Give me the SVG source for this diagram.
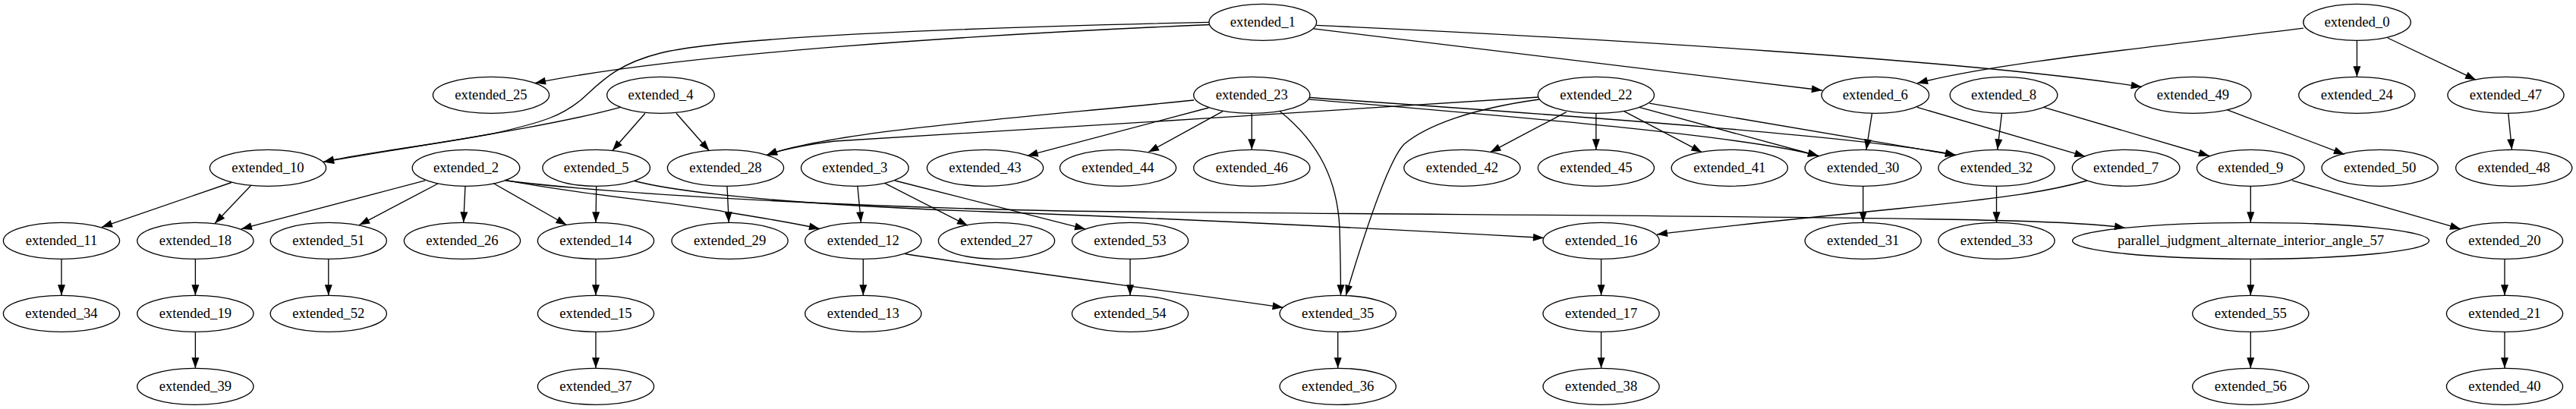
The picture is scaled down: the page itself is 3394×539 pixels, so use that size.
<svg xmlns="http://www.w3.org/2000/svg" width="3394" height="539" viewBox="0 0 3394 539">
<style>
.n ellipse{fill:none;stroke:#000;stroke-width:1.33}
.n text{font-family:"Liberation Serif","Times New Roman",serif;font-size:18.67px;text-anchor:middle;fill:#000}
#edges path{fill:none;stroke:#000;stroke-width:1.33;marker-end:url(#arr)}
</style>
<defs>
<marker id="arr" markerUnits="userSpaceOnUse" viewBox="0 0 14 10" markerWidth="14" markerHeight="10" refX="14" refY="5" orient="auto" overflow="visible"><path d="M0,0 L14,5 L0,10 Z" fill="#000"/></marker>
</defs>
<rect x="0" y="0" width="3394" height="539" fill="#fff"/>
<g id="edges">
<path d="M1594,32.5 C1300,45 900,70 705,109.5"/>
<path d="M1593,29.3 C1250,37 950,50 870,70 C810,85 790,110 765,132 C740,152 720,160 650,176 C560,193 480,201 426,213.5"/>
<path d="M817.4,141.4 C720,168 560,190 426,213.5"/>
<path d="M1730.8,37.9 L2400.9,119"/>
<path d="M1734.4,33.4 C2100,50 2600,80 2821.8,114.5"/>
<path d="M3034.8,37.2 C2800,66 2620,85 2526,109.7"/>
<path d="M3105.4,53.3 L3105.4,101.3"/>
<path d="M3145.9,50 L3262.1,105.2"/>
<path d="M3304.8,149.3 L3309.5,197.3"/>
<path d="M2934.7,144.8 L3088.9,203.4"/>
<path d="M850,149.3 L806.8,198.5"/>
<path d="M891,149.3 L934.5,198.8"/>
<path d="M1573,132 C1350,155 1100,172 1010,204.5"/>
<path d="M2027,128 C1800,145 1250,175 1100,186 C1060,191 1030,197 1010,204.5"/>
<path d="M2028,131 C1940,143 1880,165 1850,190 C1830,210 1800,300 1773.2,389.5"/>
<path d="M1686.2,146.6 C1740,190 1762,240 1765,300 C1766,340 1766.5,370 1766.5,389.3"/>
<path d="M1592.4,142 L1353.6,205.2"/>
<path d="M1611.2,146.6 L1513,200.5"/>
<path d="M1649.3,149.3 L1649.3,197.3"/>
<path d="M1724,130.8 C1950,150 2300,178 2396,205.5"/>
<path d="M1725,128.5 C2000,148 2450,178 2577,204.5"/>
<path d="M2063.8,147.6 L1963.4,200.7"/>
<path d="M2102.9,149.3 L2102.9,197.3"/>
<path d="M2139.7,146.6 L2242.4,200.7"/>
<path d="M2159.8,141.4 L2396,205.5"/>
<path d="M2173.2,136.2 L2577,204.5"/>
<path d="M2466.5,149.3 L2458.9,197.5"/>
<path d="M2525.9,141.4 L2747.3,206.2"/>
<path d="M2637.5,149.3 L2631.7,197.3"/>
<path d="M2692.7,141.4 L2911,205.5"/>
<path d="M305,240.5 L134,299.3"/>
<path d="M331,244 L283,294.5"/>
<path d="M560.3,237.9 L317.9,301.7"/>
<path d="M577,242 L473.2,296.6"/>
<path d="M613,245.3 L610.7,293.3"/>
<path d="M650,241.5 L746.5,296.5"/>
<path d="M665.2,237.2 C750,255 900,268 960,280 C1010,288 1050,295 1080,301.4"/>
<path d="M666,238 C800,255 1100,272 1400,278 C1800,283 2400,284 2650,291 C2720,293 2770,296 2800,300.3"/>
<path d="M836,238.5 C880,250 1000,268 1300,279 C1600,290 1900,306 2034,313.5"/>
<path d="M2750,238 C2700,252 2650,260 2500,275 C2350,290 2250,300 2183,309"/>
<path d="M1129.9,245.3 L1134.4,293.3"/>
<path d="M1165.6,241.4 L1275,297.2"/>
<path d="M1179,238 L1430,301.8"/>
<path d="M958,245.3 L960.3,293.3"/>
<path d="M785.7,245.3 L785,293.3"/>
<path d="M1192.4,334.5 C1300,352 1500,378 1690.6,405.2"/>
<path d="M2965.3,245.3 L2965.3,293.3"/>
<path d="M3020.1,237.9 L3242,301.7"/>
<path d="M2454.7,245.3 L2454.7,293.3"/>
<path d="M2630.5,245.3 L2630.5,293.3"/>
<path d="M81,341.3 L81,389.3"/>
<path d="M257.4,341.3 L257.4,389.3"/>
<path d="M432.8,341.3 L432.8,389.3"/>
<path d="M785,341.3 L785,389.3"/>
<path d="M1137.3,341.3 L1137.3,389.3"/>
<path d="M1489,341.3 L1489,389.3"/>
<path d="M2109.6,341.3 L2109.6,389.3"/>
<path d="M2965.3,341.3 L2965.3,389.3"/>
<path d="M3300,341.3 L3300,389.3"/>
<path d="M257.4,437.3 L257.4,485.3"/>
<path d="M785,437.3 L785,485.3"/>
<path d="M1762.7,437.3 L1762.7,485.3"/>
<path d="M2109.6,437.3 L2109.6,485.3"/>
<path d="M2965.3,437.3 L2965.3,485.3"/>
<path d="M3300,437.3 L3300,485.3"/>
</g>
<g id="extended_1" class="n"><ellipse cx="1663.8" cy="29.3" rx="70.8" ry="24"/><text x="1663.8" y="35.3">extended_1</text></g>
<g id="extended_0" class="n"><ellipse cx="3105.5" cy="29.3" rx="70.8" ry="24"/><text x="3105.5" y="35.3">extended_0</text></g>
<g id="extended_25" class="n"><ellipse cx="647" cy="125.3" rx="76.6" ry="24"/><text x="647" y="131.3">extended_25</text></g>
<g id="extended_4" class="n"><ellipse cx="870.5" cy="125.3" rx="70.8" ry="24"/><text x="870.5" y="131.3">extended_4</text></g>
<g id="extended_23" class="n"><ellipse cx="1649.3" cy="125.3" rx="76.6" ry="24"/><text x="1649.3" y="131.3">extended_23</text></g>
<g id="extended_22" class="n"><ellipse cx="2102.9" cy="125.3" rx="76.6" ry="24"/><text x="2102.9" y="131.3">extended_22</text></g>
<g id="extended_6" class="n"><ellipse cx="2470.8" cy="125.3" rx="70.8" ry="24"/><text x="2470.8" y="131.3">extended_6</text></g>
<g id="extended_8" class="n"><ellipse cx="2640" cy="125.3" rx="70.8" ry="24"/><text x="2640" y="131.3">extended_8</text></g>
<g id="extended_49" class="n"><ellipse cx="2889.4" cy="125.3" rx="76.6" ry="24"/><text x="2889.4" y="131.3">extended_49</text></g>
<g id="extended_24" class="n"><ellipse cx="3105.3" cy="125.3" rx="76.6" ry="24"/><text x="3105.3" y="131.3">extended_24</text></g>
<g id="extended_47" class="n"><ellipse cx="3301.5" cy="125.3" rx="76.6" ry="24"/><text x="3301.5" y="131.3">extended_47</text></g>
<g id="extended_10" class="n"><ellipse cx="353" cy="221.3" rx="76.6" ry="24"/><text x="353" y="227.3">extended_10</text></g>
<g id="extended_2" class="n"><ellipse cx="614" cy="221.3" rx="70.8" ry="24"/><text x="614" y="227.3">extended_2</text></g>
<g id="extended_5" class="n"><ellipse cx="785.7" cy="221.3" rx="70.8" ry="24"/><text x="785.7" y="227.3">extended_5</text></g>
<g id="extended_28" class="n"><ellipse cx="956" cy="221.3" rx="76.6" ry="24"/><text x="956" y="227.3">extended_28</text></g>
<g id="extended_3" class="n"><ellipse cx="1126.3" cy="221.3" rx="70.8" ry="24"/><text x="1126.3" y="227.3">extended_3</text></g>
<g id="extended_43" class="n"><ellipse cx="1298" cy="221.3" rx="76.6" ry="24"/><text x="1298" y="227.3">extended_43</text></g>
<g id="extended_44" class="n"><ellipse cx="1473" cy="221.3" rx="76.6" ry="24"/><text x="1473" y="227.3">extended_44</text></g>
<g id="extended_46" class="n"><ellipse cx="1649.3" cy="221.3" rx="76.6" ry="24"/><text x="1649.3" y="227.3">extended_46</text></g>
<g id="extended_42" class="n"><ellipse cx="1926.4" cy="221.3" rx="76.6" ry="24"/><text x="1926.4" y="227.3">extended_42</text></g>
<g id="extended_45" class="n"><ellipse cx="2102.9" cy="221.3" rx="76.6" ry="24"/><text x="2102.9" y="227.3">extended_45</text></g>
<g id="extended_41" class="n"><ellipse cx="2278.8" cy="221.3" rx="76.6" ry="24"/><text x="2278.8" y="227.3">extended_41</text></g>
<g id="extended_30" class="n"><ellipse cx="2454.7" cy="221.3" rx="76.6" ry="24"/><text x="2454.7" y="227.3">extended_30</text></g>
<g id="extended_32" class="n"><ellipse cx="2630.5" cy="221.3" rx="76.6" ry="24"/><text x="2630.5" y="227.3">extended_32</text></g>
<g id="extended_7" class="n"><ellipse cx="2801.1" cy="221.3" rx="70.8" ry="24"/><text x="2801.1" y="227.3">extended_7</text></g>
<g id="extended_9" class="n"><ellipse cx="2965.3" cy="221.3" rx="70.8" ry="24"/><text x="2965.3" y="227.3">extended_9</text></g>
<g id="extended_50" class="n"><ellipse cx="3135.6" cy="221.3" rx="76.6" ry="24"/><text x="3135.6" y="227.3">extended_50</text></g>
<g id="extended_48" class="n"><ellipse cx="3312.2" cy="221.3" rx="76.6" ry="24"/><text x="3312.2" y="227.3">extended_48</text></g>
<g id="extended_11" class="n"><ellipse cx="81" cy="317.3" rx="76.6" ry="24"/><text x="81" y="323.3">extended_11</text></g>
<g id="extended_18" class="n"><ellipse cx="257.4" cy="317.3" rx="76.6" ry="24"/><text x="257.4" y="323.3">extended_18</text></g>
<g id="extended_51" class="n"><ellipse cx="432.8" cy="317.3" rx="76.6" ry="24"/><text x="432.8" y="323.3">extended_51</text></g>
<g id="extended_26" class="n"><ellipse cx="609" cy="317.3" rx="76.6" ry="24"/><text x="609" y="323.3">extended_26</text></g>
<g id="extended_14" class="n"><ellipse cx="785" cy="317.3" rx="76.6" ry="24"/><text x="785" y="323.3">extended_14</text></g>
<g id="extended_29" class="n"><ellipse cx="961.6" cy="317.3" rx="76.6" ry="24"/><text x="961.6" y="323.3">extended_29</text></g>
<g id="extended_12" class="n"><ellipse cx="1137.3" cy="317.3" rx="76.6" ry="24"/><text x="1137.3" y="323.3">extended_12</text></g>
<g id="extended_27" class="n"><ellipse cx="1313" cy="317.3" rx="76.6" ry="24"/><text x="1313" y="323.3">extended_27</text></g>
<g id="extended_53" class="n"><ellipse cx="1489" cy="317.3" rx="76.6" ry="24"/><text x="1489" y="323.3">extended_53</text></g>
<g id="extended_16" class="n"><ellipse cx="2109.6" cy="317.3" rx="76.6" ry="24"/><text x="2109.6" y="323.3">extended_16</text></g>
<g id="extended_31" class="n"><ellipse cx="2454.7" cy="317.3" rx="76.6" ry="24"/><text x="2454.7" y="323.3">extended_31</text></g>
<g id="extended_33" class="n"><ellipse cx="2630.5" cy="317.3" rx="76.6" ry="24"/><text x="2630.5" y="323.3">extended_33</text></g>
<g id="parallel_judgment_alternate_interior_angle_57" class="n"><ellipse cx="2965.5" cy="317.3" rx="234.9" ry="24"/><text x="2965.5" y="323.3">parallel_judgment_alternate_interior_angle_57</text></g>
<g id="extended_20" class="n"><ellipse cx="3300" cy="317.3" rx="76.6" ry="24"/><text x="3300" y="323.3">extended_20</text></g>
<g id="extended_34" class="n"><ellipse cx="81" cy="413.3" rx="76.6" ry="24"/><text x="81" y="419.3">extended_34</text></g>
<g id="extended_19" class="n"><ellipse cx="257.4" cy="413.3" rx="76.6" ry="24"/><text x="257.4" y="419.3">extended_19</text></g>
<g id="extended_52" class="n"><ellipse cx="432.8" cy="413.3" rx="76.6" ry="24"/><text x="432.8" y="419.3">extended_52</text></g>
<g id="extended_15" class="n"><ellipse cx="785" cy="413.3" rx="76.6" ry="24"/><text x="785" y="419.3">extended_15</text></g>
<g id="extended_13" class="n"><ellipse cx="1137.3" cy="413.3" rx="76.6" ry="24"/><text x="1137.3" y="419.3">extended_13</text></g>
<g id="extended_54" class="n"><ellipse cx="1489" cy="413.3" rx="76.6" ry="24"/><text x="1489" y="419.3">extended_54</text></g>
<g id="extended_35" class="n"><ellipse cx="1762.7" cy="413.3" rx="76.6" ry="24"/><text x="1762.7" y="419.3">extended_35</text></g>
<g id="extended_17" class="n"><ellipse cx="2109.6" cy="413.3" rx="76.6" ry="24"/><text x="2109.6" y="419.3">extended_17</text></g>
<g id="extended_55" class="n"><ellipse cx="2965.3" cy="413.3" rx="76.6" ry="24"/><text x="2965.3" y="419.3">extended_55</text></g>
<g id="extended_21" class="n"><ellipse cx="3300" cy="413.3" rx="76.6" ry="24"/><text x="3300" y="419.3">extended_21</text></g>
<g id="extended_39" class="n"><ellipse cx="257.4" cy="509.3" rx="76.6" ry="24"/><text x="257.4" y="515.3">extended_39</text></g>
<g id="extended_37" class="n"><ellipse cx="785" cy="509.3" rx="76.6" ry="24"/><text x="785" y="515.3">extended_37</text></g>
<g id="extended_36" class="n"><ellipse cx="1762.7" cy="509.3" rx="76.6" ry="24"/><text x="1762.7" y="515.3">extended_36</text></g>
<g id="extended_38" class="n"><ellipse cx="2109.6" cy="509.3" rx="76.6" ry="24"/><text x="2109.6" y="515.3">extended_38</text></g>
<g id="extended_56" class="n"><ellipse cx="2965.3" cy="509.3" rx="76.6" ry="24"/><text x="2965.3" y="515.3">extended_56</text></g>
<g id="extended_40" class="n"><ellipse cx="3300" cy="509.3" rx="76.6" ry="24"/><text x="3300" y="515.3">extended_40</text></g>
</svg>
